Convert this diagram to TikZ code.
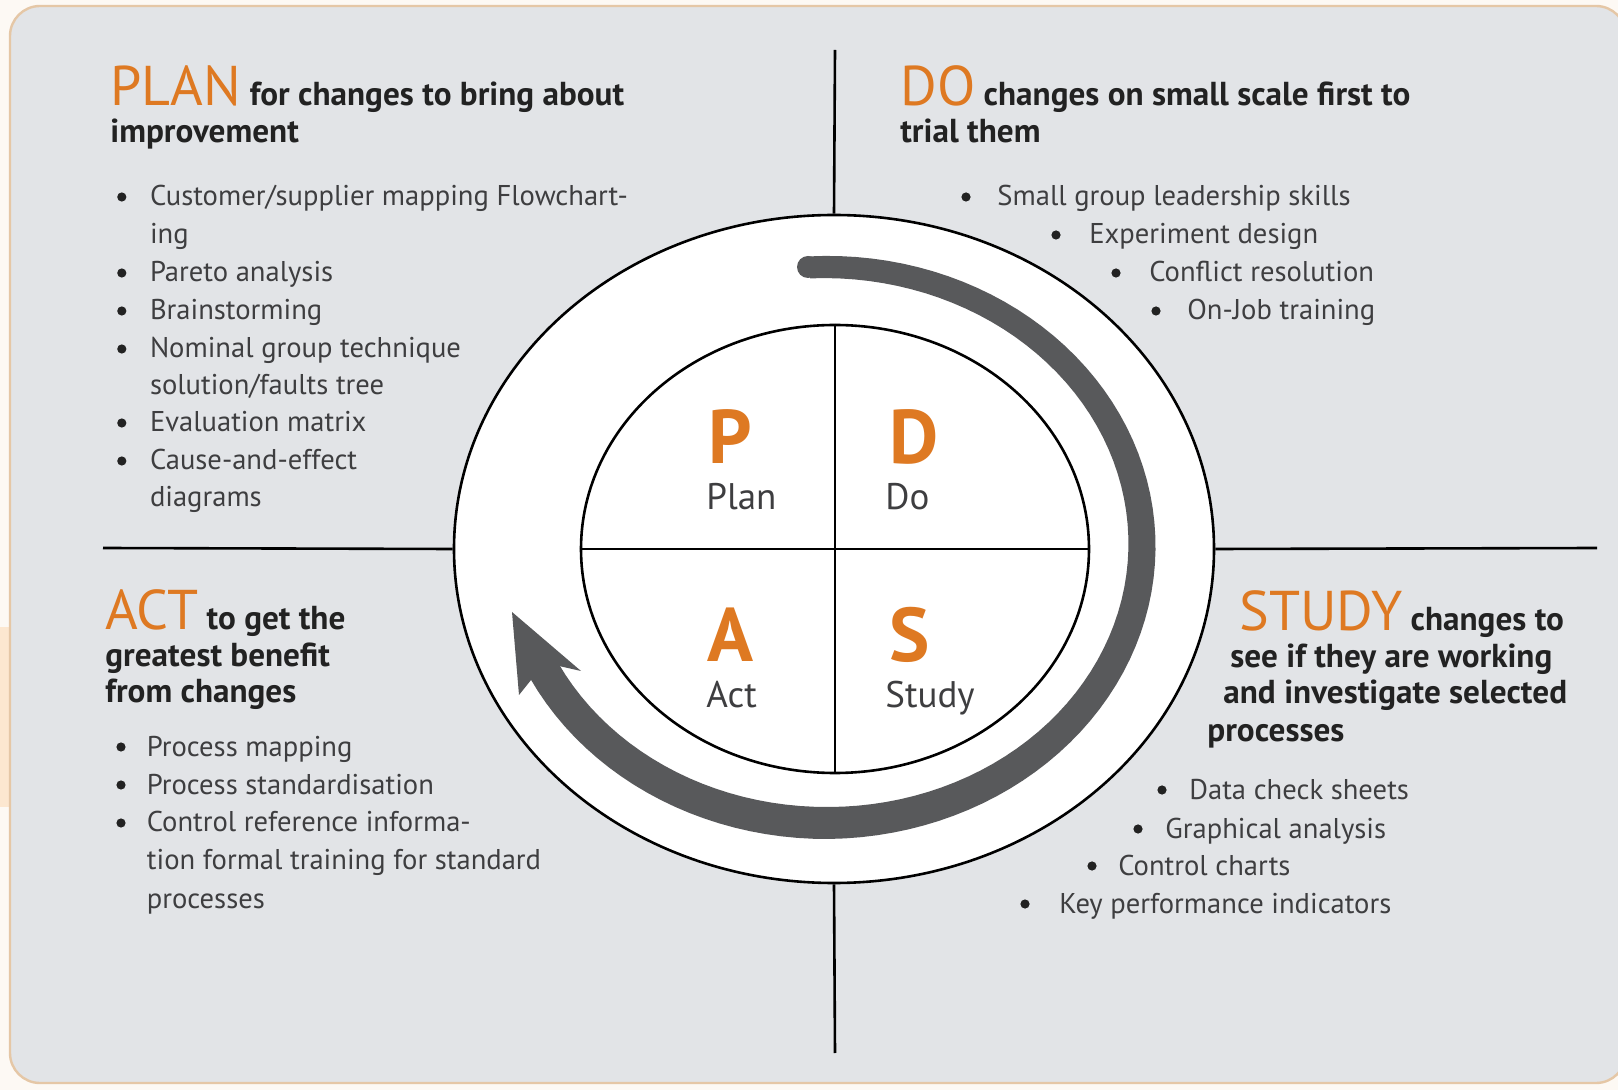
\documentclass[tikz,border=0pt]{standalone}
\usepackage{fontspec}
\setmainfont{PT Sans}
\usetikzlibrary{shapes.geometric}

\definecolor{pdsaorange}{RGB}{222,121,34}
\definecolor{bandgrey}{RGB}{88,89,91}
\definecolor{panelgrey}{RGB}{226,228,231}
\definecolor{paneledge}{RGB}{229,199,166}
\definecolor{papercream}{RGB}{253,249,244}
\definecolor{glow}{RGB}{252,231,208}
\definecolor{textgrey}{RGB}{62,62,64}
\definecolor{headblack}{RGB}{34,34,34}

\newcommand{\bulletfont}{\fontsize{14.3}{17}\selectfont}
\newcommand{\titlefont}{\fontsize{16.6}{19}\selectfont\bfseries}
\newcommand{\keywordfont}{\fontsize{28}{30}\selectfont\mdseries}
\newcommand{\bigletterfont}{\fontsize{38}{40}\selectfont\bfseries}
\newcommand{\wordfont}{\fontsize{18.5}{22}\selectfont}

\tikzset{
  bullettext/.style={anchor=base west, inner sep=0pt, font=\bulletfont, text=textgrey},
  bulletdot/.style={circle, fill=headblack, inner sep=0pt, minimum size=4.6pt},
  titletext/.style={anchor=base west, inner sep=0pt, font=\titlefont, text=headblack},
  bigletter/.style={anchor=base west, inner sep=0pt, font=\bigletterfont, text=pdsaorange},
  wordlabel/.style={anchor=base west, inner sep=0pt, font=\wordfont, text=textgrey},
  divline/.style={black, line width=1.3pt},
}

\begin{document}
\begin{tikzpicture}[x=0.5pt, y=-0.5pt]

% Frame of the picture (pixel units, y downwards)
\useasboundingbox (0,0) rectangle (1618,1090);
\fill[papercream] (0,0) rectangle (1618,1090);
\fill[glow] (0,627) rectangle (12,807);
\draw[paneledge, line width=1.2pt, fill=panelgrey, rounded corners=15pt] (10,6) rectangle (1626,1083);

% Centre and end points of the dividing lines
\coordinate (c) at (834,549);
\coordinate (vtop) at (835,50);
\coordinate (vbot) at (835,1053);
\coordinate (hleft) at (103,548);
\coordinate (hright) at (1597,548);

% Ellipses
\node[ellipse, draw, line width=1.3pt, fill=white, inner sep=0pt, minimum width=380pt, minimum height=334pt] (outer) at (c) {};
\node[ellipse, draw, line width=1.3pt, fill=white, inner sep=0pt, minimum width=254pt, minimum height=224pt] (inner) at (835,549) {};

% Dividing lines
\draw[divline] (vtop) -- (outer.north);
\draw[divline] (outer.south) -- (vbot);
\draw[divline] (hleft) -- (outer.west);
\draw[divline] (outer.east) -- (hright);
\draw[divline] (inner.north) -- (inner.south);
\draw[divline] (inner.west) -- (inner.east);

%%%%%%%%%% Cycle arrow %%%%%%%%%%
\fill[bandgrey] plot[domain=93:-153, samples=90]
    ({826+(327+5*min(1,(93-\x)/183))*cos(\x)}, {545-(289+5*min(1,(93-\x)/183))*sin(\x)})
  -- plot[domain=-153:93, samples=90]
    ({826+(305-5*min(1,(93-\x)/183))*cos(\x)}, {545-(267-5*min(1,(93-\x)/183))*sin(\x)})
  -- cycle;
\coordinate (bandstart) at (808,267);
\fill[bandgrey] (bandstart) circle (5.5pt);
\coordinate (tip) at (512,612);
\coordinate (rbarb) at (581,671);
\coordinate (rnotch) at (559,666);
\coordinate (lnotch) at (531,680);
\coordinate (lbarb) at (519,695);
\fill[bandgrey] (tip) -- (rbarb) -- (rnotch) -- (lnotch) -- (lbarb) -- cycle;

% Letters in the quarters
\node[bigletter] (pletter) at (708,464) {P};
\node[bigletter] (dletter) at (889,464) {D};
\node[bigletter] (aletter) at (707,662) {A};
\node[bigletter] (sletter) at (889,662) {S};
\node[wordlabel] (planword) at (706,510) {Plan};
\node[wordlabel] (doword) at (885,510) {Do};
\node[wordlabel] (actword) at (706,708) {Act};
\node[wordlabel] (studyword) at (885,708) {Study};

% Headings
\node[titletext] (plantitle) at (110,106) {{\keywordfont\textcolor{pdsaorange}{PLAN}} for changes to bring about};
\node[titletext] (plantitle2) at (110,143) {improvement};
\node[titletext] (dotitle) at (900,106) {{\keywordfont\textcolor{pdsaorange}{DO}} changes on small scale first to};
\node[titletext] (dotitle2) at (900,143) {trial them};
\node[titletext] (acttitle) at (105,630) {{\keywordfont\textcolor{pdsaorange}{ACT}} to get the};
\node[titletext] (acttitle2) at (105,667) {greatest benefit};
\node[titletext] (acttitle3) at (105,703) {from changes};
\node[titletext] (studytitle) at (1239,631) {{\keywordfont\textcolor{pdsaorange}{STUDY}} changes to};
\node[titletext] (studytitle2) at (1230,668) {see if they are working};
\node[titletext] (studytitle3) at (1223,704) {and investigate selected};
\node[titletext] (studytitle4) at (1207,741) {processes};

% Plan list
\foreach \y/\b/\txt [count=\i] in {206/1/{Customer/supplier mapping Flowchart-}, 244/0/ing,
    282/1/Pareto analysis, 320/1/Brainstorming, 358/1/Nominal group technique,
    395/0/{solution/faults tree}, 432/1/Evaluation matrix, 470/1/Cause-and-effect, 507/0/diagrams}
{
    \node[bullettext] (plan\i) at (149.6,\y) {\txt};
    \ifnum\b=1 \node[bulletdot] (plandot\i) at (121.8,\y-9) {}; \fi
}

% Do list
\foreach \dx/\tx/\y/\txt [count=\i] in {966/997/206/Small group leadership skills,
    1056/1089/244/Experiment design, 1116/1149/282/Conflict resolution, 1156/1187/320/On-Job training}
{
    \node[bullettext] (do\i) at (\tx,\y) {\txt};
    \node[bulletdot] (dodot\i) at (\dx,\y-9) {};
}

% Act list
\foreach \y/\b/\txt [count=\i] in {756/1/Process mapping, 794/1/Process standardisation,
    832/1/Control reference informa-, 870/0/tion formal training for standard, 908/0/processes}
{
    \node[bullettext] (act\i) at (146.5,\y) {\txt};
    \ifnum\b=1 \node[bulletdot] (actdot\i) at (121,\y-9) {}; \fi
}

% Study list
\foreach \dx/\tx/\y/\txt [count=\i] in {1162/1189/799/Data check sheets,
    1138/1165/838/Graphical analysis, 1092/1118/875/Control charts, 1025/1059/913/Key performance indicators}
{
    \node[bullettext] (study\i) at (\tx,\y) {\txt};
    \node[bulletdot] (studydot\i) at (\dx,\y-9) {};
}

\end{tikzpicture}
\end{document}
